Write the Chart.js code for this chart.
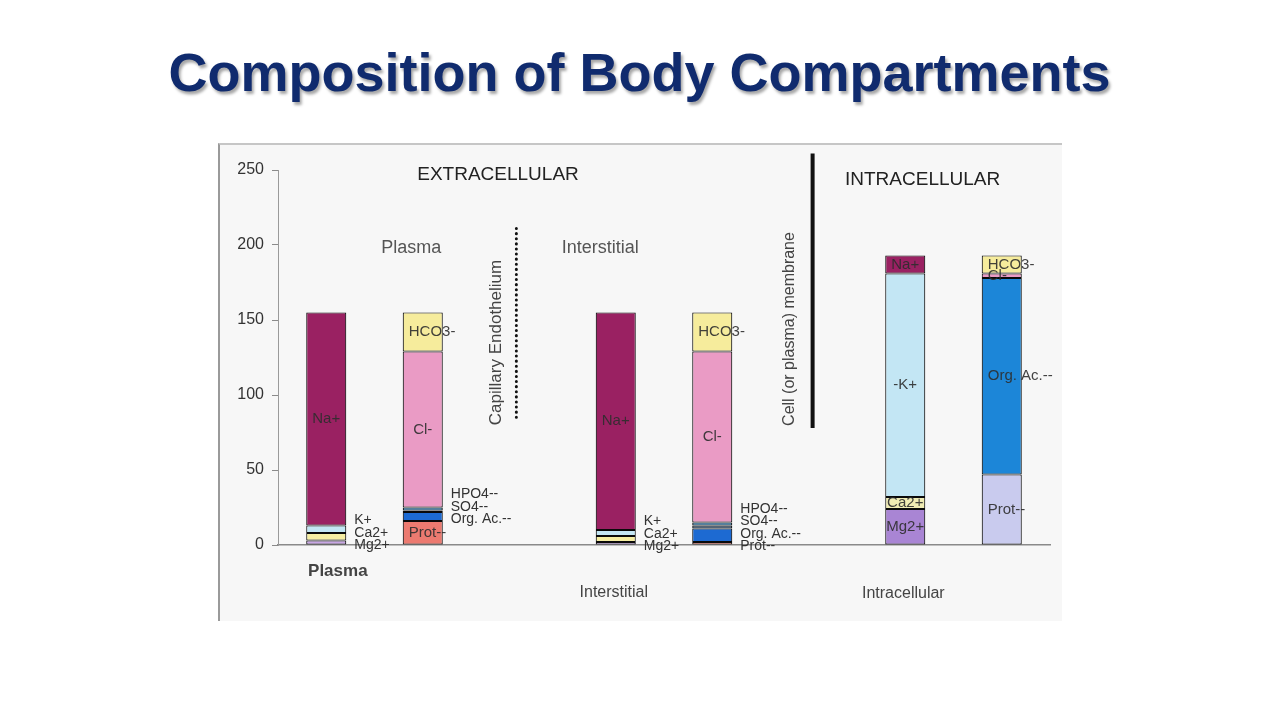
<!DOCTYPE html>
<html>
<head>
<meta charset="utf-8">
<title>Composition of Body Compartments</title>
<script src="https://cdn.jsdelivr.net/npm/chart.js@4.4.1/dist/chart.umd.min.js"></script>
<style>
  html, body { margin: 0; padding: 0; background: #fff; }
  body { width: 1279px; height: 720px; position: relative; overflow: hidden; font-family: "Liberation Sans", Arial, sans-serif; }
  h1 { position: absolute; left: 0; right: 0; top: 42px; margin: 0; text-align: center; font-size: 54px; line-height: 60px; font-weight: bold; color: #102b6e; text-shadow: 2px 3px 3px rgba(0,0,0,.35); }
  #panel { position: absolute; left: 218px; top: 143px; width: 844px; height: 478px; box-sizing: border-box; background: #f7f7f7; border-left: 2px solid #9a9a9a; border-top: 2px solid #c6c6c6; }
  #wrap { position: absolute; left: 218px; top: 143px; width: 844px; height: 478px; }
</style>
</head>
<body>
<h1>Composition of Body Compartments</h1>
<div id="panel"></div>
<div id="wrap"><canvas id="chart"></canvas></div>
<script>
  // mEq/L. Bars: cations / anions for each compartment,
  // with an empty slot between compartments.
  const categories = ["Plasma +", "Plasma -", "", "Interstitial +", "Interstitial -", "", "Intracellular +", "Intracellular -"];
  const yTicks = [0, 50, 100, 150, 200, 250];

  const mg    = [3,    null, null, 2,    null, null, 24,   null];
  const ca    = [5,    null, null, 4,    null, null, 8,    null];
  const k     = [5,    null, null, 4,    null, null, 149,  null];
  const na    = [142,  null, null, 145,  null, null, 12,   null];
  const prot  = [null, 16,   null, null, 2,    null, null, 47];
  const orgAc = [null, 6,    null, null, 9,    null, null, 131];
  const so4   = [null, 1,    null, null, 2,    null, null, null];
  const hpo4  = [null, 2,    null, null, 2,    null, null, null];
  const cl    = [null, 104,  null, null, 114,  null, null, 3];
  const hco3  = [null, 26,   null, null, 26,   null, null, 12];

  const FONT = '"Liberation Sans", Arial, sans-serif';
  const EDGE = "#0a0a0a";

  // place: c = centred in bar, l = left inside bar, s = beside the bar
  function ds(label, data, color, place, tags) {
    return { label, data, backgroundColor: color, borderColor: EDGE, borderWidth: 1.1, borderSkipped: false, inflateAmount: 0, place, tags };
  }

  const datasets = [
    ds("Mg2+", mg, ["#c8a6e4", , , "#c8a6e4", , , "#a985d4"], ["s", , , "s", , , "c"]),
    ds("Ca2+", ca, ["#f6eea2", , , "#f6eea2", , , "#f0ecb4"], ["s", , , "s", , , "c"]),
    ds("K+", k, "#c3e6f4", ["s", , , "s", , , "c"], ["K+", , , "K+", , , "-K+"]),
    ds("Na+", na, "#9a2162", ["c", , , "c", , , "c"]),
    ds("Prot--", prot, [, "#ec7a70", , , "#ec7a70", , , "#c9cbee"], [, "l", , , "s", , , "l"]),
    ds("Org. Ac.--", orgAc, [, "#1d6ad2", , , "#1d6ad2", , , "#1c86d8"], [, "s", , , "s", , , "l"]),
    ds("SO4--", so4, "#2c4d6e", [, "s", , , "s"]),
    ds("HPO4--", hpo4, "#2f80b8", [, "s", , , "s"]),
    ds("Cl-", cl, "#ea9bc5", [, "c", , , "c", , , "l"]),
    ds("HCO3-", hco3, "#f6ec9c", [, "l", , , "l", , , "l"]),
  ];

  // segment names: inside the bars or stacked to their right
  const segmentLabels = {
    id: "segmentLabels",
    afterDatasetsDraw(chart) {
      const ctx = chart.ctx;
      const side = {};
      ctx.save();
      ctx.textBaseline = "middle";
      chart.data.datasets.forEach((d, di) => {
        const meta = chart.getDatasetMeta(di);
        d.data.forEach((v, i) => {
          if (v == null) return;
          const el = meta.data[i];
          const { x, y, base, width } = el.getProps(["x", "y", "base", "width"], true);
          const text = (d.tags && d.tags[i]) || d.label;
          const mid = (y + base) / 2;
          const mode = d.place[i];
          if (mode === "s") {
            (side[i] = side[i] || []).push({ text, x: x + width / 2 + 8, y: mid + 3 });
            return;
          }
          ctx.font = "15px " + FONT;
          ctx.fillStyle = "rgba(45,45,45,.9)";
          if (mode === "c") { ctx.textAlign = "center"; ctx.fillText(text, x, mid); }
          else { ctx.textAlign = "left"; ctx.fillText(text, x - width / 2 + 6, mid); }
        });
      });
      ctx.font = "14px " + FONT;
      ctx.textAlign = "left";
      ctx.fillStyle = "#333";
      Object.values(side).forEach((list) => {
        list.sort((a, b) => b.y - a.y);
        let last = Infinity;
        list.forEach((l) => {
          const yy = Math.min(l.y, last - 12.5);
          ctx.fillText(l.text, l.x, yy);
          last = yy;
        });
      });
      ctx.restore();
    },
  };

  // headings, membrane markers and compartment names
  const annotations = {
    id: "annotations",
    afterDraw(chart) {
      const ctx = chart.ctx;
      const xs = chart.scales.x, ys = chart.scales.y;
      const px = (i) => xs.getPixelForValue(i);
      const py = (v) => ys.getPixelForValue(v);
      const text = (t, i, v, size, color, weight, rot) => {
        ctx.save();
        ctx.font = (weight || "") + " " + size + "px " + FONT;
        ctx.fillStyle = color;
        ctx.textAlign = "center";
        ctx.textBaseline = "middle";
        ctx.translate(px(i), py(v));
        if (rot) ctx.rotate(-Math.PI / 2);
        ctx.fillText(t, 0, 0);
        ctx.restore();
      };
      text("EXTRACELLULAR", 1.78, 246.5, 19, "#222");
      text("INTRACELLULAR", 6.18, 243.3, 19, "#222");
      text("Plasma", 0.88, 198, 18, "#555");
      text("Interstitial", 2.84, 198, 18, "#555");
      text("Plasma", 0.12, -17.3, 17, "#444", "bold");
      text("Interstitial", 2.98, -32, 16, "#444");
      text("Intracellular", 5.98, -32.7, 16, "#444");
      text("Capillary Endothelium", 1.76, 135, 17, "#444", "", true);
      text("Cell (or plasma) membrane", 4.80, 144, 16, "#444", "", true);

      ctx.save();
      ctx.strokeStyle = "#111";
      ctx.lineCap = "round";
      ctx.lineWidth = 3;
      ctx.setLineDash([0.1, 5]);
      ctx.beginPath();
      ctx.moveTo(px(1.97), py(211));
      ctx.lineTo(px(1.97), py(83));
      ctx.stroke();
      ctx.setLineDash([]);
      ctx.lineCap = "butt";
      ctx.lineWidth = 4;
      ctx.beginPath();
      ctx.moveTo(px(5.04), py(261));
      ctx.lineTo(px(5.04), py(78));
      ctx.stroke();
      ctx.restore();
    },
  };

  new Chart(document.getElementById("chart"), {
    type: "bar",
    data: { labels: categories, datasets },
    options: {
      responsive: true,
      maintainAspectRatio: false,
      animation: false,
      layout: { padding: { left: 0, top: 27, right: 12, bottom: 76 } },
      datasets: { bar: { categoryPercentage: 1, barPercentage: 0.415 } },
      plugins: { legend: { display: false }, tooltip: { enabled: false } },
      scales: {
        x: {
          stacked: true,
          ticks: { display: false },
          grid: { display: false },
          border: { color: "#8a8a8a", width: 1.5 },
          afterFit: (s) => { s.height = 0; },
        },
        y: {
          stacked: true,
          min: 0, max: 250,
          afterBuildTicks: (s) => { s.ticks = yTicks.map((v) => ({ value: v })); },
          ticks: { color: "#333", padding: 8, font: { family: FONT, size: 16 } },
          grid: { drawOnChartArea: false, drawTicks: true, tickLength: 6, color: "#8a8a8a" },
          border: { color: "#9a9a9a", width: 1 },
          afterFit: (s) => { s.width = 60; },
        },
      },
    },
    plugins: [segmentLabels, annotations],
  });
</script>
</body>
</html>
